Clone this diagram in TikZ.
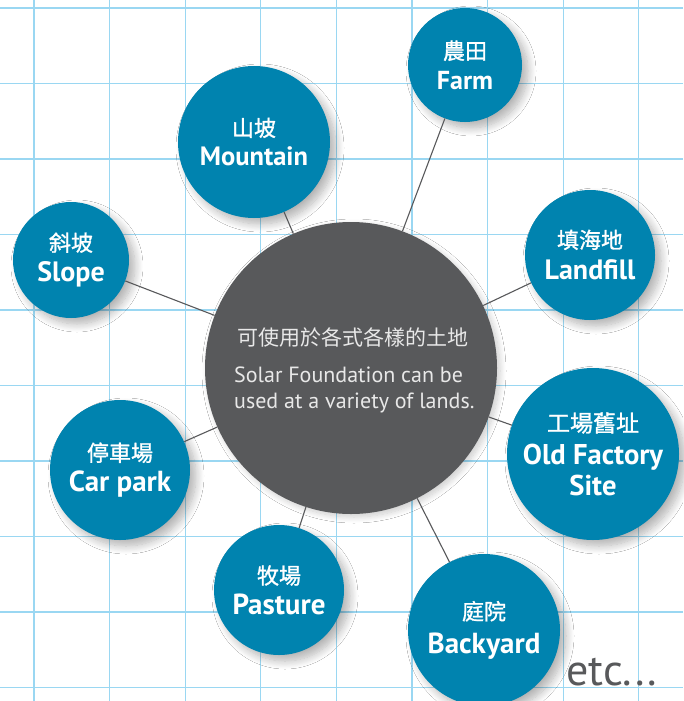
\documentclass[tikz,border=0pt]{standalone}
\usepackage{fontspec}
\setmainfont{PT Sans}
\newfontfamily\cjk{Noto Sans CJK TC}
\newfontfamily\cjkb{Noto Sans CJK TC}[FakeBold=1.2]
\usetikzlibrary{shadows.blur}
\definecolor{gridblue}{HTML}{9AD7F2}
\definecolor{nodeblue}{HTML}{0083AF}
\definecolor{darkg}{HTML}{58595B}
\definecolor{lightt}{HTML}{E8E8E8}
\tikzset{
  landnode/.style={circle, fill=nodeblue, inner sep=0pt, text=white, align=center,
    blur shadow={shadow xshift=6pt, shadow yshift=-6pt, shadow blur steps=12, shadow blur radius=8pt, shadow opacity=30}},
  hubnode/.style={circle, fill=darkg, inner sep=0pt,
    blur shadow={shadow xshift=3pt, shadow yshift=-3pt, shadow blur steps=10, shadow blur radius=6pt, shadow opacity=20}},
  link/.style={draw=darkg, line width=1.1pt},
  gridline/.style={draw=gridblue, line width=1.1pt},
  hubtext/.style={text=lightt, anchor=base west, inner sep=0pt},
}
\newcommand{\zh}[2]{{\cjkb\fontsize{#1}{#1}\selectfont #2}}
\newcommand{\en}[2]{{\bfseries\fontsize{#1}{#1}\selectfont #2}}
\begin{document}
\begin{tikzpicture}[x=1pt,y=-1pt]
\useasboundingbox (0,0) rectangle (683,701);
\fill[white] (0,0) rectangle (683,701);
% grid
\foreach \k in {0,...,8} \draw[gridline] ({34+75.6*\k},0) -- ({34+75.6*\k},701);
\foreach \k in {0,...,9} \draw[gridline] (0,{8+75.5*\k}) -- (683,{8+75.5*\k});
% hub
\node[hubnode, minimum size=292pt] (hub) at (351,368) {};
\node[hubtext] (h1) at (237,345) {{\cjk\fontsize{21}{21}\selectfont 可使用於各式各樣的土地}};
\node[hubtext] (h2) at (234,382) {\fontsize{22}{22}\selectfont Solar Foundation can be};
\node[hubtext] (h3) at (234,408) {\fontsize{22}{22}\selectfont used at a variety of lands.};
% land nodes
\node[landnode, minimum size=114pt] (farm) at (465,65) {\zh{22}{農田}\\[9pt]\en{26}{Farm}};
\node[landnode, minimum size=152pt] (mount) at (254,142) {\zh{22}{山坡}\\[8pt]\en{26.5}{Mountain}};
\node[landnode, minimum size=116pt] (slope) at (71,260) {\zh{22}{斜坡}\\[8pt]\en{28}{Slope}};
\node[landnode, minimum size=130pt] (landfill) at (590,255) {\zh{22}{填海地}\\[9pt]\en{28}{Landfill}};
\node[landnode, minimum size=172pt] (factory) at (593,454) {\zh{23}{工場舊址}\\[9pt]\en{28.6}{Old Factory}\\[4pt]\en{28.6}{Site}};
\node[landnode, minimum size=140pt] (carpark) at (120,470) {\zh{22}{停車場}\\[7pt]\en{29}{Car park}};
\node[landnode, minimum size=130pt] (pasture) at (279,590) {\zh{22}{牧場}\\[7pt]\en{29}{Pasture}};
\node[landnode, minimum size=152pt] (backyard) at (484,630) {\zh{22}{庭院}\\[10pt]\en{29}{Backyard}};
% links
\foreach \n in {farm,mount,slope,landfill,factory,carpark,pasture,backyard}
  \draw[link] (hub) -- (\n);
% etc
\node[text=darkg, anchor=base west, inner sep=0pt] (etc) at (566,685) {\fontsize{44}{44}\selectfont etc...};
\end{tikzpicture}
\end{document}
